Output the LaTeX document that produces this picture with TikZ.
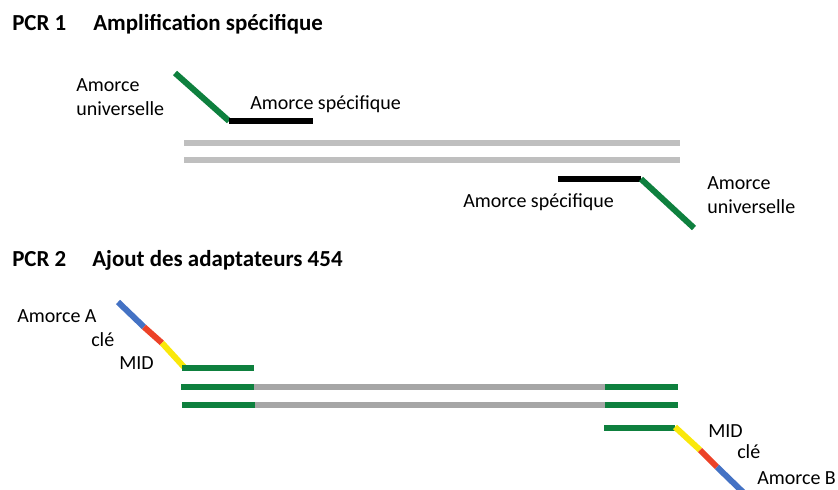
\documentclass[tikz,border=0pt]{standalone}
\usepackage{fontspec}
\setmainfont{Carlito}
\usepackage{tikz}
\usetikzlibrary{positioning}
\definecolor{grisclair}{RGB}{191,191,191}
\definecolor{gris}{RGB}{166,166,166}
\definecolor{vert}{RGB}{14,128,62}
\definecolor{bleu}{RGB}{68,114,196}
\definecolor{rouge}{RGB}{236,66,40}
\definecolor{jaune}{RGB}{250,232,10}
\tikzstyle{titre}=[font=\bfseries\fontsize{17.2}{20}\selectfont, anchor=base west, inner sep=0pt]
\tikzstyle{lbl}=[font=\fontsize{15}{18}\selectfont, anchor=base west, inner sep=0pt, align=left]
\tikzstyle{brin}=[line width=4.5pt]

\begin{document}
\begin{tikzpicture}[x=0.75pt,y=-0.75pt]
    \useasboundingbox (0,0) rectangle (838,489);
    % PCR 1
    \node [titre] (pcr1) at (12,31) {PCR 1};
    \node [titre] (amp) at (93,31) {Amplification spécifique};
    \coordinate (u1) at (175,73);
    \coordinate (s1) at (229,121);
    \coordinate (s1e) at (313,121);
    \coordinate (g1a) at (184,143);
    \coordinate (g1b) at (680,143);
    \coordinate (g2a) at (184,160);
    \coordinate (g2b) at (680,160);
    \coordinate (s2a) at (558,179);
    \coordinate (s2b) at (641,179);
    \coordinate (u2) at (694,228);
    \draw [brin,vert] (u1) -- (s1);
    \draw [brin,black] (s1) -- (s1e);
    \draw [brin,grisclair] (g1a) -- (g1b);
    \draw [brin,grisclair] (g2a) -- (g2b);
    \draw [brin,black] (s2a) -- (s2b);
    \draw [brin,vert] (s2b) -- (u2);
    % base = last line
    \node [lbl] (univ1) at (76,115) {Amorce\\universelle};
    \node [lbl] (spec1) at (250,109) {Amorce spécifique};
    \node [lbl] (spec2) at (463,207) {Amorce spécifique};
    \node [lbl] (univ2) at (707,213) {Amorce\\universelle};
    % PCR 2
    \node [titre] (pcr2) at (12,266) {PCR 2};
    \node [titre] (ajout) at (92,266) {Ajout des adaptateurs 454};
    \coordinate (a1) at (118,302);
    \coordinate (a2) at (144,327);
    \coordinate (a3) at (162,343);
    \coordinate (a4) at (184,367);
    \draw [brin,bleu] (a1) -- (a2);
    \draw [brin,rouge] (a2) -- (a3);
    \draw [brin,jaune] (a3) -- (a4);
    \coordinate (v1a) at (182,368);
    \coordinate (v1b) at (254,368);
    \coordinate (v2a) at (181,387);
    \coordinate (v2b) at (254,387);
    \coordinate (v2c) at (605,387);
    \coordinate (v2d) at (678,387);
    \coordinate (v3a) at (182,405);
    \coordinate (v3b) at (255,405);
    \coordinate (v3c) at (605,405);
    \coordinate (v3d) at (678,405);
    \coordinate (v4a) at (604,428);
    \coordinate (v4b) at (675,428);
    \draw [brin,vert] (v1a) -- (v1b);
    \draw [brin,gris] (v2b) -- (v2c);
    \draw [brin,gris] (v3b) -- (v3c);
    \draw [brin,vert] (v2a) -- (v2b);
    \draw [brin,vert] (v3a) -- (v3b);
    \draw [brin,vert] (v2c) -- (v2d);
    \draw [brin,vert] (v3c) -- (v3d);
    \draw [brin,vert] (v4a) -- (v4b);
    \coordinate (b1) at (675,427);
    \coordinate (b2) at (700,450);
    \coordinate (b3) at (717,467);
    \coordinate (b4) at (748,497);
    \draw [brin,jaune] (b1) -- (b2);
    \draw [brin,rouge] (b2) -- (b3);
    \draw [brin,bleu] (b3) -- (b4);
    \node [lbl] (amA) at (17,322) {Amorce A};
    \node [lbl] (cle1) at (91,346) {clé};
    \node [lbl] (mid1) at (119,369) {MID};
    \node [lbl] (mid2) at (708,437) {MID};
    \node [lbl] (cle2) at (737,458) {clé};
    \node [lbl] (amB) at (757,484) {Amorce B};
\end{tikzpicture}
\end{document}
